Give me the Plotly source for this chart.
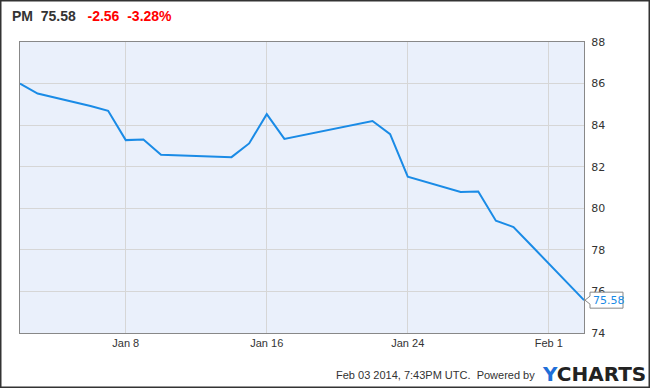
import plotly.graph_objects as go

dates = ["2014-01-02", "2014-01-03", "2014-01-06", "2014-01-07", "2014-01-08", "2014-01-09",
         "2014-01-10", "2014-01-13", "2014-01-14", "2014-01-15", "2014-01-16", "2014-01-17",
         "2014-01-21", "2014-01-22", "2014-01-23", "2014-01-24", "2014-01-27", "2014-01-28",
         "2014-01-29", "2014-01-30", "2014-01-31", "2014-02-03"]
prices = [86.00, 85.52, 84.92, 84.69, 83.28, 83.31,
          82.57, 82.47, 82.46, 83.12, 84.53, 83.34,
          84.02, 84.20, 83.57, 81.52, 80.78, 80.81,
          79.40, 79.10, 78.22, 75.58]
x_tick_vals = ["2014-01-08", "2014-01-16", "2014-01-24", "2014-02-01"]
x_tick_text = ["Jan 8", "Jan 16", "Jan 24", "Feb 1"]
y_tick_vals = [74, 76, 78, 80, 82, 84, 86, 88]
y_min, y_max = 74, 88

W, H = 650, 388
ML, MR, MT, MB = 20, 66, 42, 55
PW, PH = W - ML - MR, H - MT - MB

fig = go.Figure()
fig.add_trace(go.Scatter(x=dates, y=prices, mode="lines",
                         line=dict(color="#1a8be6", width=2), hoverinfo="skip"))

fig.update_layout(
    width=W, height=H,
    margin=dict(l=ML, r=MR, t=MT, b=MB, pad=0),
    paper_bgcolor="white",
    plot_bgcolor="#eaf0fb",
    showlegend=False,
    xaxis=dict(range=[dates[0], dates[-1]], tickvals=x_tick_vals, ticktext=x_tick_text,
               showgrid=True, gridcolor="#d6d6d6", gridwidth=1, zeroline=False,
               showline=True, linecolor="#888888", linewidth=1, mirror=True,
               ticks="", tickfont=dict(family="Liberation Sans", size=11, color="#333333")),
    yaxis=dict(range=[y_min, y_max], tickvals=y_tick_vals, side="right",
               showgrid=True, gridcolor="#d6d6d6", gridwidth=1, zeroline=False,
               showline=True, linecolor="#888888", linewidth=1, mirror=True,
               ticks="outside", ticklen=4, tickcolor="rgba(0,0,0,0)",
               tickfont=dict(family="DejaVu Sans", size=11, color="#333333")),
    font=dict(family="Liberation Sans", color="#333333"),
)

# outer border
fig.add_shape(type="rect", xref="paper", yref="paper",
              x0=(0.75 - ML) / PW, x1=(W - 0.75 - ML) / PW,
              y0=-(MB - 0.75) / PH, y1=1 + (MT - 0.75) / PH,
              line=dict(color="#333333", width=1.5), fillcolor="rgba(0,0,0,0)", layer="above")

# title
fig.add_annotation(xref="paper", yref="paper", x=(10 - ML) / PW, y=1 + (MT - 16) / PH,
                   xanchor="left", yanchor="middle", showarrow=False,
                   text="<b>PM&nbsp;&nbsp;75.58</b>&nbsp;&nbsp;&nbsp;<b><span style='color:#ff0000'>-2.56&nbsp;&nbsp;-3.28%</span></b>",
                   font=dict(family="Liberation Sans", size=14, color="#333333"))

# last value pointer box
anchor_y = (prices[-1] - y_min) / (y_max - y_min)
fig.add_shape(type="path", xref="paper", yref="paper", xsizemode="pixel", ysizemode="pixel",
              xanchor=1, yanchor=anchor_y,
              path="M 1 0 L 6 4 L 6 8 L 39 8 L 39 -8 L 6 -8 L 6 -4 Z",
              fillcolor="white", line=dict(color="#888888", width=1), layer="above")
fig.add_annotation(x=dates[-1], y=prices[-1], xref="x", yref="y", xanchor="left", yanchor="middle",
                   xshift=7, showarrow=False, text=f"{prices[-1]:.2f}",
                   font=dict(family="DejaVu Sans", size=11, color="#1a8be6"))

# footer
fig.add_annotation(xref="paper", yref="paper", x=(537 - ML) / PW, y=-(375 - MT - PH) / PH,
                   xanchor="right", yanchor="middle", showarrow=False,
                   text="Feb 03 2014, 7:43PM UTC.&nbsp;&nbsp;Powered by",
                   font=dict(family="Liberation Sans", size=11, color="#333333"))
fig.add_annotation(xref="paper", yref="paper", x=(540 - ML) / PW, y=-(374 - MT - PH) / PH,
                   xanchor="left", yanchor="middle", showarrow=False,
                   text="<b><span style='color:#1f6fd8'>Y</span>CHARTS</b>",
                   font=dict(family="DejaVu Sans", size=20, color="#222222"))

fig.write_html("out.html", config={"displayModeBar": False},
               post_script="document.body.style.margin='0';document.body.style.overflow='hidden';")
